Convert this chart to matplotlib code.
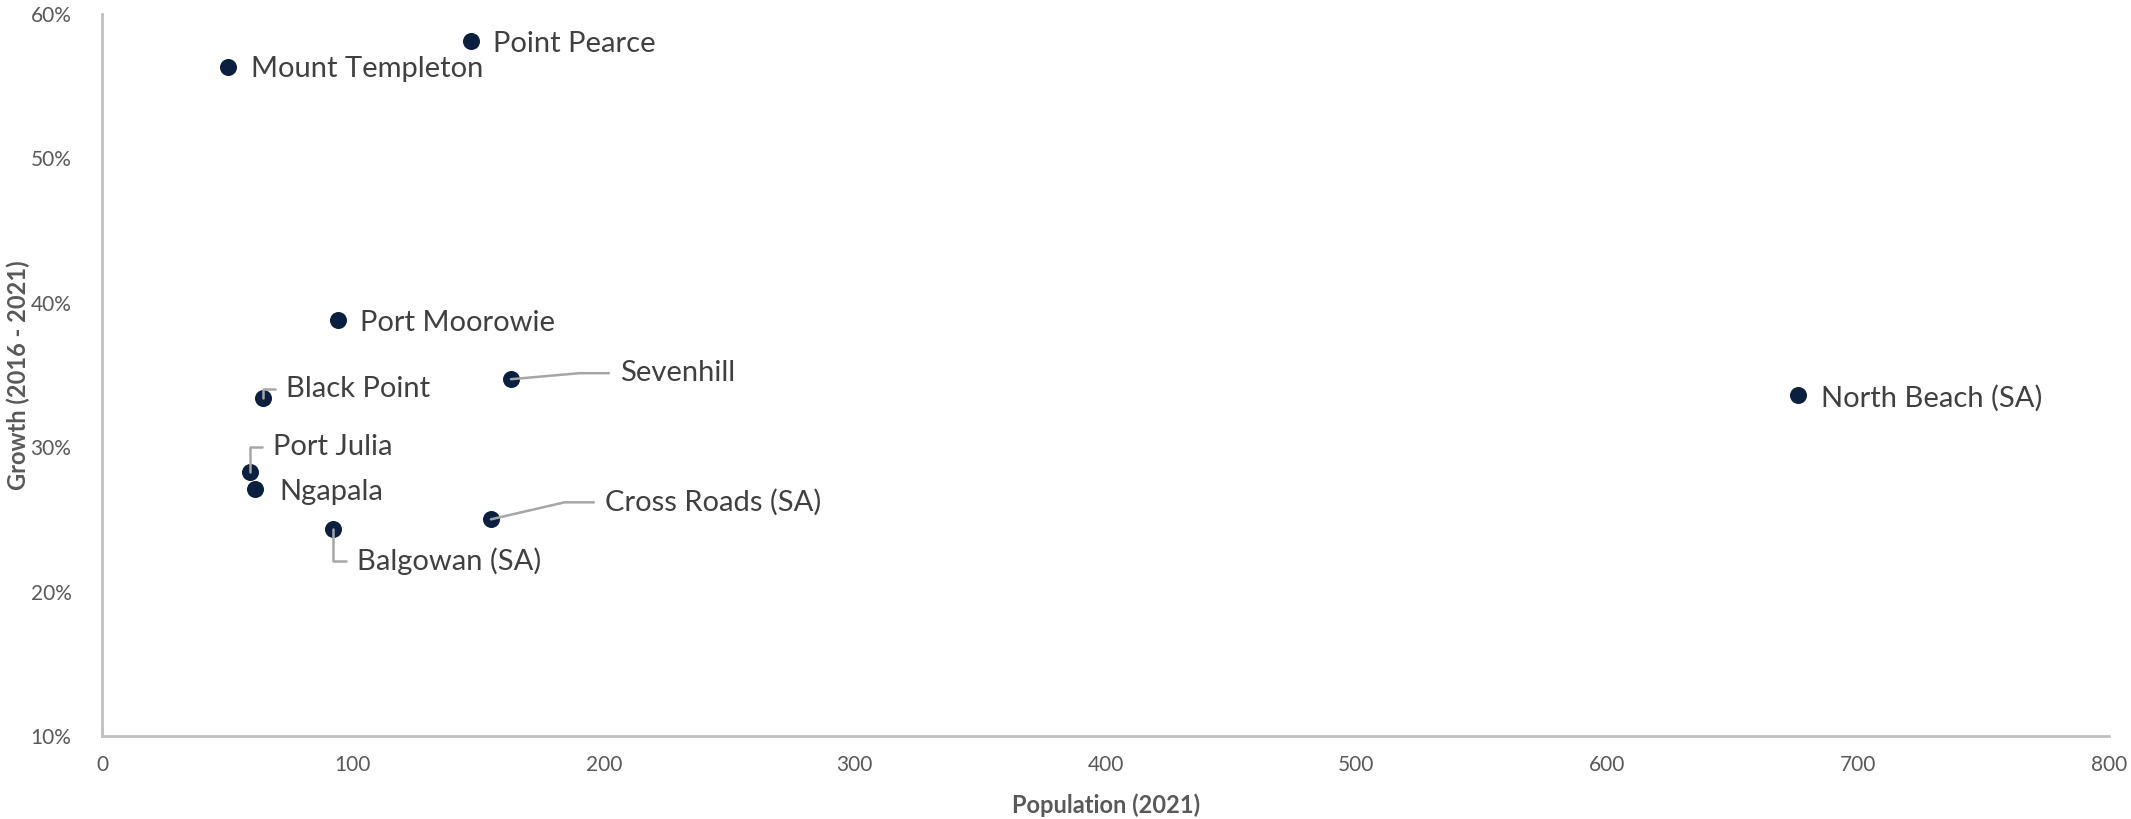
import matplotlib
matplotlib.use("Agg")
import matplotlib.pyplot as plt
from matplotlib.ticker import PercentFormatter, MultipleLocator

# data
towns = ["Mount Templeton", "Point Pearce", "Port Moorowie", "Black Point",
         "Sevenhill", "Port Julia", "Ngapala", "Balgowan (SA)",
         "Cross Roads (SA)", "North Beach (SA)"]
population = [50, 147, 94, 64, 163, 59, 61, 92, 155, 676]
growth = [0.563, 0.581, 0.388, 0.334, 0.347, 0.283, 0.271, 0.243, 0.250, 0.336]

# label placement: offset in pixels (dx, dy) and leader line angle (None = no leader)
label_offsets = {
    "Mount Templeton": (23, -2, None),
    "Point Pearce": (22, -3, None),
    "Port Moorowie": (22, -3, None),
    "Black Point": (23, 9, 90),
    "Sevenhill": (109, 6, 5),
    "Port Julia": (23, 25, 90),
    "Ngapala": (24, -3, None),
    "Balgowan (SA)": (24, -32, 90),
    "Cross Roads (SA)": (114, 17, 13),
    "North Beach (SA)": (23, -3, None),
}

plt.rcParams['font.family'] = ['Lato', 'DejaVu Sans']

fig = plt.figure(figsize=(21.31, 8.19), dpi=100)
ax = fig.add_axes([0.0479, 0.1013, 0.9418, 0.882])

ax.scatter(population, growth, s=150, color="#0B1F40", zorder=3, linewidths=0)

for name, x, y in zip(towns, population, growth):
    dx, dy, ang = label_offsets[name]
    if ang is None:
        ax.annotate(name, (x, y), xytext=(dx, dy), textcoords="offset pixels",
                    ha="left", va="center", fontsize=21, color="#404040")
    else:
        ax.annotate(name, (x, y), xytext=(dx, dy), textcoords="offset pixels",
                    ha="left", va="center", fontsize=21, color="#404040",
                    arrowprops=dict(arrowstyle="-", color="#A6A6A6", lw=1.8,
                                    relpos=(0, 0.5), shrinkA=6, shrinkB=0,
                                    connectionstyle="angle,angleA=0,angleB=%d,rad=0" % ang))

ax.set_xlim(0, 800)
ax.set_ylim(0.10, 0.60)
ax.xaxis.set_major_locator(MultipleLocator(100))
ax.yaxis.set_major_locator(MultipleLocator(0.10))
ax.yaxis.set_major_formatter(PercentFormatter(1.0, decimals=0))

for s in ["top", "right"]:
    ax.spines[s].set_visible(False)
for s in ["left", "bottom"]:
    ax.spines[s].set_color("#BFBFBF")
    ax.spines[s].set_linewidth(2)
ax.tick_params(axis="both", length=0, labelsize=15, labelcolor="#595959")
ax.tick_params(axis="y", pad=22)
ax.tick_params(axis="x", pad=14)

ax.set_xlabel("Population (2021)", fontsize=17, fontweight="bold", color="#595959")
ax.set_ylabel("Growth (2016 - 2021)", fontsize=17, fontweight="bold", color="#595959")
ax.xaxis.set_label_coords(0.5, -0.079)
ax.yaxis.set_label_coords(-0.036, 0.5)

fig.savefig("out.png", dpi=100)
